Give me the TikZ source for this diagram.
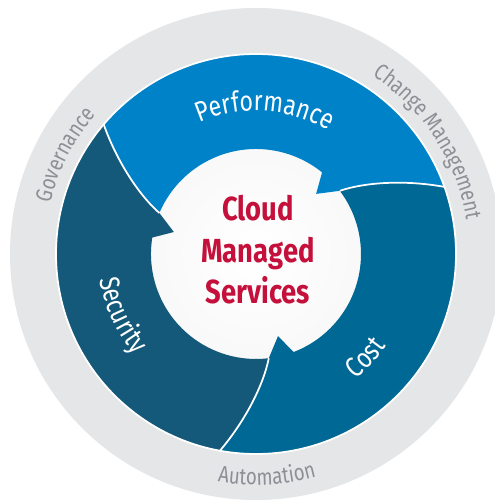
\documentclass[tikz,border=0pt]{standalone}
\usepackage{fontspec}
\setmainfont{Fira Sans}[FakeStretch=0.82]
\usetikzlibrary{decorations.text}

\definecolor{ringgray}{HTML}{E5E6E8}
\definecolor{ringtext}{HTML}{8C9096}
\definecolor{perfblue}{HTML}{0082C9}
\definecolor{costblue}{HTML}{006894}
\definecolor{secblue}{HTML}{15597A}
\definecolor{cmsred}{HTML}{C4103A}

\pgfdeclareradialshading{discglow}{\pgfpoint{0bp}{0bp}}{color(0bp)=(white); color(30bp)=(white!97!black); color(50bp)=(white!87!black)}

\newcommand{\bandfont}{\fontsize{16}{16}\selectfont}
\newcommand{\ringfont}{\fontsize{13}{13}\selectfont}

\tikzset{
  bandtext/.style={decorate, decoration={text along path, text align=center, text color=white, text={|\bandfont|#1}}},
  ringlabel/.style={decorate, decoration={text along path, text align=center, text color=ringtext, text={|\ringfont|#1}}},
  seam/.style={white, line width=1pt}
}

\begin{document}
\begin{tikzpicture}[scale=0.02]
\useasboundingbox (-256,-248) rectangle (239,254);
\fill[white] (-256,-248) rectangle (239,254);

% outer ring and centre disc
\fill[ringgray] (0,0) circle[radius=246];
\shade[shading=discglow] (0,0) circle[radius=105];

% points of the three arrow heads
\foreach \n/\rot in {perf/0, cost/-120, sec/120} {
  \coordinate (\n O) at (19.6+\rot:200);
  \coordinate (\n C1) at (26.3+\rot:167.3);
  \coordinate (\n C2) at (33.2+\rot:131.5);
  \coordinate (\n X) at (37+\rot:105);
  \coordinate (\n T) at (45+\rot:85);
  \coordinate (\n N) at (51+\rot:105);
}

\fill[perfblue] (secO) arc[start angle=139.6, end angle=19.6, radius=200]
  .. controls (perfC1) and (perfC2) .. (perfX) -- (perfT) -- (perfN)
  arc[start angle=51, end angle=157, radius=105]
  .. controls (secC2) and (secC1) .. (secO) -- cycle;
\fill[costblue] (perfO) arc[start angle=19.6, end angle=-100.4, radius=200]
  .. controls (costC1) and (costC2) .. (costX) -- (costT) -- (costN)
  arc[start angle=-69, end angle=37, radius=105]
  .. controls (perfC2) and (perfC1) .. (perfO) -- cycle;
\fill[secblue] (costO) arc[start angle=259.6, end angle=139.6, radius=200]
  .. controls (secC1) and (secC2) .. (secX) -- (secT) -- (secN)
  arc[start angle=171, end angle=277, radius=105]
  .. controls (costC2) and (costC1) .. (costO) -- cycle;

% white seams
\draw[seam] (0,0) circle[radius=200];
\foreach \n in {perf, cost, sec}
  \draw[seam] (\n X) .. controls (\n C2) and (\n C1) .. (\n O);

\node[font=\bfseries\fontsize{19}{23.6}\selectfont, text=cmsred, align=center, inner sep=0pt] (cms) at (2,4) {Cloud\\Managed\\Services};

% labels in the band
\path[bandtext=Performance] (126.5:143) arc[start angle=126.5, end angle=46.5, radius=143];
\path[bandtext=Security] (164.5:158) arc[start angle=164.5, end angle=244.5, radius=158];
\path[bandtext=Cost] (-83.3:160) arc[start angle=-83.3, end angle=-3.3, radius=160];

% labels in the ring
\path[ringlabel=Governance] (192.5:212) arc[start angle=192.5, end angle=112.5, radius=212];
\path[ringlabel={Change Management}] (73:213) arc[start angle=73, end angle=-7, radius=213];
\path[ringlabel=Automation] (232.8:231) arc[start angle=232.8, end angle=312.8, radius=231];

\end{tikzpicture}
\end{document}
